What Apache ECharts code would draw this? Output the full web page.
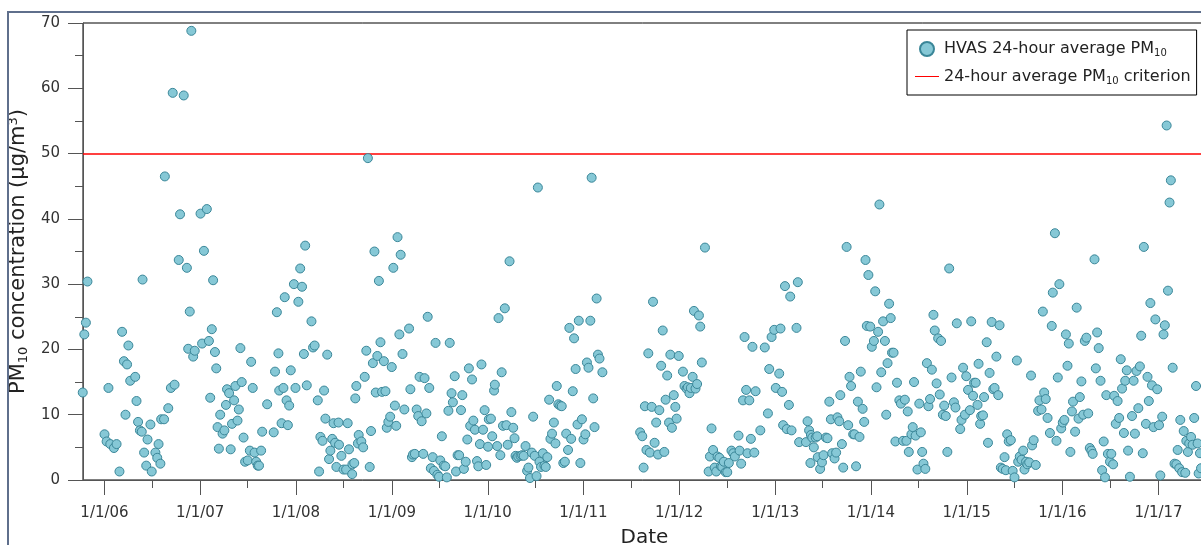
<!DOCTYPE html>
<html>
<head>
<meta charset="utf-8">
<title>HVAS 24-hour average PM10</title>
<script src="https://cdn.jsdelivr.net/npm/echarts@6/dist/echarts.min.js"></script>
<style>
  html, body { margin: 0; padding: 0; background: #fff; }
  #chart { width: 1201px; height: 545px; }
</style>
</head>
<body>
<div id="chart"></div>
<script>
// axis range and ticks
const xStart = '2005-10-11'
const xEnd = '2017-07-01'
const yearTicks = ['2006-01-01', '2007-01-01', '2008-01-01', '2009-01-01', '2010-01-01', '2011-01-01',
  '2012-01-01', '2013-01-01', '2014-01-01', '2015-01-01', '2016-01-01', '2017-01-01']
const yearLabels = ['1/1/06', '1/1/07', '1/1/08', '1/1/09', '1/1/10', '1/1/11',
  '1/1/12', '1/1/13', '1/1/14', '1/1/15', '1/1/16', '1/1/17']
const midYearTicks = ['2006-07-01', '2007-07-01', '2008-07-01', '2009-07-01', '2010-07-01', '2011-07-01',
  '2012-07-01', '2013-07-01', '2014-07-01', '2015-07-01', '2016-07-01', '2017-07-01']
const criterion = 50

// HVAS 24-hour average PM10 (µg/m3)
const pm2005 = [['2005-10-10', 13.4], ['2005-10-16', 22.3], ['2005-10-22', 24.1], ['2005-10-28', 30.4]]
const pm2006 = [['2006-01-01', 7.0], ['2006-01-09', 5.9], ['2006-01-16', 14.1], ['2006-01-23', 5.5],
  ['2006-02-06', 4.9], ['2006-02-16', 5.5], ['2006-02-27', 1.3], ['2006-03-09', 22.7], ['2006-03-16', 18.2],
  ['2006-03-22', 10.0], ['2006-03-28', 17.7], ['2006-04-02', 20.6], ['2006-04-09', 15.2], ['2006-04-28', 15.8],
  ['2006-05-03', 12.1], ['2006-05-09', 8.9], ['2006-05-16', 7.6], ['2006-05-23', 7.4], ['2006-05-26', 30.7],
  ['2006-06-01', 4.2], ['2006-06-09', 2.2], ['2006-06-14', 6.2], ['2006-06-25', 8.5], ['2006-06-30', 1.3],
  ['2006-07-14', 4.2], ['2006-07-21', 3.4], ['2006-07-26', 5.5], ['2006-08-02', 2.5], ['2006-08-05', 9.3],
  ['2006-08-16', 9.3], ['2006-08-19', 46.5], ['2006-09-01', 11.0], ['2006-09-11', 14.1], ['2006-09-18', 59.3],
  ['2006-09-25', 14.6], ['2006-10-11', 33.7], ['2006-10-16', 40.7], ['2006-10-30', 58.9], ['2006-11-11', 32.5],
  ['2006-11-16', 20.1], ['2006-11-22', 25.8], ['2006-11-28', 68.8], ['2006-12-05', 18.9], ['2006-12-11', 19.8]]
const pm2007 = [['2007-01-02', 40.8], ['2007-01-08', 20.9], ['2007-01-15', 35.1], ['2007-01-26', 41.5],
  ['2007-02-03', 21.3], ['2007-02-08', 12.6], ['2007-02-14', 23.1], ['2007-02-19', 30.6], ['2007-02-26', 19.6],
  ['2007-03-03', 17.1], ['2007-03-08', 8.1], ['2007-03-13', 4.8], ['2007-03-18', 10.0], ['2007-03-27', 7.1],
  ['2007-04-03', 7.6], ['2007-04-09', 11.5], ['2007-04-13', 13.9], ['2007-04-21', 13.3], ['2007-04-27', 4.7],
  ['2007-05-02', 8.6], ['2007-05-10', 12.2], ['2007-05-15', 14.4], ['2007-05-23', 9.1], ['2007-05-28', 10.8],
  ['2007-06-03', 20.2], ['2007-06-08', 15.0], ['2007-06-15', 6.5], ['2007-06-21', 2.8], ['2007-07-01', 3.0],
  ['2007-07-09', 4.5], ['2007-07-14', 18.1], ['2007-07-20', 14.1], ['2007-07-27', 4.2], ['2007-08-02', 2.8],
  ['2007-08-08', 2.2], ['2007-08-13', 2.2], ['2007-08-21', 4.5], ['2007-08-25', 7.4], ['2007-09-13', 11.6],
  ['2007-10-08', 7.3], ['2007-10-13', 16.6], ['2007-10-20', 25.7], ['2007-10-26', 19.4], ['2007-10-29', 13.7],
  ['2007-11-07', 8.7], ['2007-11-14', 14.1], ['2007-11-19', 28.0], ['2007-11-26', 12.2], ['2007-12-01', 8.4],
  ['2007-12-06', 11.4], ['2007-12-12', 16.8], ['2007-12-24', 30.0], ['2007-12-30', 14.1]]
const pm2008 = [['2008-01-10', 27.3], ['2008-01-17', 32.4], ['2008-01-24', 29.6], ['2008-01-31', 19.3],
  ['2008-02-05', 35.9], ['2008-02-11', 14.5], ['2008-02-29', 24.3], ['2008-03-06', 20.3], ['2008-03-12', 20.6],
  ['2008-03-24', 12.2], ['2008-03-29', 1.3], ['2008-04-03', 6.6], ['2008-04-11', 6.0], ['2008-04-17', 13.7],
  ['2008-04-22', 9.4], ['2008-04-29', 19.2], ['2008-05-06', 3.2], ['2008-05-11', 4.5], ['2008-05-18', 6.3],
  ['2008-05-23', 8.7], ['2008-05-29', 5.7], ['2008-06-03', 2.0], ['2008-06-11', 8.8], ['2008-06-13', 5.4],
  ['2008-06-22', 3.7], ['2008-06-30', 1.6], ['2008-07-10', 1.6], ['2008-07-16', 8.7], ['2008-07-21', 4.7],
  ['2008-08-02', 0.9], ['2008-08-03', 2.4], ['2008-08-10', 2.6], ['2008-08-14', 12.5], ['2008-08-18', 14.4],
  ['2008-08-24', 5.6], ['2008-08-27', 6.9], ['2008-09-06', 5.9], ['2008-09-13', 5.0], ['2008-09-19', 15.8],
  ['2008-09-25', 19.8], ['2008-10-01', 49.3], ['2008-10-08', 2.0], ['2008-10-13', 7.5], ['2008-10-20', 17.9],
  ['2008-10-26', 35.0], ['2008-10-31', 13.4], ['2008-11-06', 19.0], ['2008-11-12', 30.5], ['2008-11-18', 21.1],
  ['2008-11-24', 13.5], ['2008-12-01', 18.2], ['2008-12-07', 13.6], ['2008-12-12', 8.0], ['2008-12-18', 8.9],
  ['2008-12-25', 9.7], ['2008-12-31', 17.3]]
const pm2009 = [['2009-01-06', 32.5], ['2009-01-12', 11.4], ['2009-01-17', 8.3], ['2009-01-22', 37.2],
  ['2009-01-29', 22.3], ['2009-02-03', 34.5], ['2009-02-10', 19.3], ['2009-02-17', 10.8], ['2009-03-07', 23.2],
  ['2009-03-12', 13.9], ['2009-03-18', 3.5], ['2009-03-22', 3.9], ['2009-03-29', 4.0], ['2009-04-05', 10.8],
  ['2009-04-11', 9.8], ['2009-04-16', 15.8], ['2009-04-24', 9.0], ['2009-04-30', 4.0], ['2009-05-05', 15.6],
  ['2009-05-12', 10.2], ['2009-05-17', 25.0], ['2009-05-23', 14.1], ['2009-05-29', 1.8], ['2009-06-05', 3.5],
  ['2009-06-10', 1.4], ['2009-06-16', 21.0], ['2009-06-23', 0.8], ['2009-06-29', 0.5], ['2009-07-04', 3.0],
  ['2009-07-10', 6.7], ['2009-07-17', 2.2], ['2009-07-23', 2.1], ['2009-07-29', 0.4], ['2009-08-04', 10.6],
  ['2009-08-09', 21.0], ['2009-08-16', 13.3], ['2009-08-21', 11.9], ['2009-08-28', 15.9], ['2009-09-02', 1.3],
  ['2009-09-08', 3.8], ['2009-09-14', 3.8], ['2009-09-21', 10.7], ['2009-09-26', 13.0], ['2009-10-02', 1.7],
  ['2009-10-09', 2.8], ['2009-10-15', 6.2], ['2009-10-21', 17.1], ['2009-10-26', 8.3], ['2009-11-02', 15.4],
  ['2009-11-07', 9.1], ['2009-11-13', 7.7], ['2009-11-21', 2.9], ['2009-11-26', 2.1], ['2009-12-02', 5.5],
  ['2009-12-08', 17.7], ['2009-12-14', 7.7], ['2009-12-20', 10.7], ['2009-12-26', 2.3]]
const pm2010 = [['2010-01-02', 5.1], ['2010-01-05', 9.3], ['2010-01-13', 9.4], ['2010-01-18', 6.7],
  ['2010-01-25', 13.7], ['2010-01-28', 14.6], ['2010-02-06', 5.2], ['2010-02-11', 24.8], ['2010-02-18', 3.8],
  ['2010-02-23', 16.5], ['2010-02-28', 8.3], ['2010-03-07', 26.3], ['2010-03-13', 8.4], ['2010-03-18', 5.4],
  ['2010-03-25', 33.5], ['2010-04-01', 10.4], ['2010-04-08', 8.0], ['2010-04-13', 6.4], ['2010-04-17', 3.7],
  ['2010-04-22', 3.4], ['2010-04-27', 3.6], ['2010-05-06', 3.7], ['2010-05-12', 3.8], ['2010-05-18', 3.7],
  ['2010-05-25', 5.2], ['2010-05-31', 1.4], ['2010-06-05', 1.9], ['2010-06-11', 0.3], ['2010-06-18', 4.2],
  ['2010-06-23', 9.7], ['2010-06-29', 3.7], ['2010-07-06', 0.6], ['2010-07-11', 44.8], ['2010-07-17', 2.8],
  ['2010-07-23', 2.0], ['2010-07-30', 4.1], ['2010-08-05', 2.2], ['2010-08-10', 2.0], ['2010-08-16', 3.5],
  ['2010-08-23', 12.3], ['2010-08-28', 6.3], ['2010-09-03', 7.1], ['2010-09-10', 8.8], ['2010-09-16', 5.6],
  ['2010-09-21', 14.4], ['2010-09-27', 11.6], ['2010-10-04', 11.4], ['2010-10-10', 11.3], ['2010-10-16', 2.6],
  ['2010-10-22', 2.8], ['2010-10-27', 7.1], ['2010-11-03', 4.6], ['2010-11-08', 23.3], ['2010-11-15', 6.3],
  ['2010-11-21', 13.6], ['2010-11-26', 21.7], ['2010-12-02', 17.0], ['2010-12-09', 8.5], ['2010-12-14', 24.4],
  ['2010-12-20', 2.6], ['2010-12-26', 9.3]]
const pm2011 = [['2011-01-01', 6.2], ['2011-01-08', 7.0], ['2011-01-14', 18.0], ['2011-01-20', 17.2],
  ['2011-01-27', 24.4], ['2011-02-01', 46.3], ['2011-02-07', 12.5], ['2011-02-12', 8.1], ['2011-02-20', 27.8],
  ['2011-02-25', 19.2], ['2011-03-03', 18.6], ['2011-03-14', 16.5], ['2011-08-05', 7.3], ['2011-08-13', 6.7],
  ['2011-08-18', 1.9], ['2011-08-23', 11.3], ['2011-08-29', 4.6], ['2011-09-05', 19.4], ['2011-09-11', 4.2],
  ['2011-09-18', 11.2], ['2011-09-23', 27.3], ['2011-09-29', 5.7], ['2011-10-05', 8.8], ['2011-10-12', 3.9],
  ['2011-10-17', 10.7], ['2011-10-24', 17.5], ['2011-10-30', 22.9], ['2011-11-05', 4.3], ['2011-11-10', 12.3],
  ['2011-11-16', 16.0], ['2011-11-23', 8.8], ['2011-11-28', 19.2], ['2011-12-04', 8.0], ['2011-12-11', 13.0],
  ['2011-12-17', 11.2], ['2011-12-22', 9.4], ['2011-12-30', 19.0]]
const pm2012 = [['2012-01-15', 16.6], ['2012-01-21', 14.4], ['2012-01-29', 14.0], ['2012-02-03', 14.2],
  ['2012-02-09', 13.3], ['2012-02-14', 14.1], ['2012-02-21', 15.8], ['2012-02-26', 25.9], ['2012-03-03', 14.0],
  ['2012-03-09', 14.7], ['2012-03-16', 25.2], ['2012-03-21', 23.5], ['2012-03-27', 18.0], ['2012-04-08', 35.6],
  ['2012-04-22', 1.3], ['2012-04-27', 3.6], ['2012-05-03', 7.9], ['2012-05-09', 4.6], ['2012-05-15', 1.9],
  ['2012-05-21', 1.3], ['2012-05-26', 3.6], ['2012-06-02', 3.4], ['2012-06-08', 2.1], ['2012-06-13', 2.0],
  ['2012-06-19', 2.8], ['2012-06-26', 1.2], ['2012-07-02', 1.2], ['2012-07-08', 2.6], ['2012-07-18', 4.5],
  ['2012-07-25', 4.1], ['2012-07-31', 3.6], ['2012-08-14', 6.8], ['2012-08-18', 4.5], ['2012-08-24', 2.5],
  ['2012-08-31', 12.2], ['2012-09-06', 21.9], ['2012-09-12', 13.8], ['2012-09-17', 4.1], ['2012-09-24', 12.2],
  ['2012-09-30', 6.3], ['2012-10-06', 20.4], ['2012-10-13', 4.2], ['2012-10-18', 13.6], ['2012-11-05', 7.6],
  ['2012-11-22', 20.3], ['2012-12-04', 10.2], ['2012-12-09', 17.0], ['2012-12-18', 21.9], ['2012-12-28', 23.0]]
const pm2013 = [['2013-01-03', 14.1], ['2013-01-16', 16.3], ['2013-01-21', 23.2], ['2013-01-27', 13.5],
  ['2013-01-31', 8.4], ['2013-02-07', 29.7], ['2013-02-14', 7.8], ['2013-02-22', 11.5], ['2013-02-27', 28.1],
  ['2013-03-04', 7.6], ['2013-03-23', 23.3], ['2013-03-28', 30.3], ['2013-04-02', 5.8], ['2013-04-28', 5.8],
  ['2013-05-04', 9.0], ['2013-05-10', 7.6], ['2013-05-15', 2.6], ['2013-05-17', 6.9], ['2013-05-22', 6.5],
  ['2013-05-28', 5.0], ['2013-06-04', 6.5], ['2013-06-10', 6.7], ['2013-06-12', 3.5], ['2013-06-21', 1.7],
  ['2013-06-28', 2.7], ['2013-07-04', 3.8], ['2013-07-13', 6.5], ['2013-07-19', 6.4], ['2013-07-26', 12.0],
  ['2013-08-01', 9.3], ['2013-08-06', 4.1], ['2013-08-15', 3.3], ['2013-08-21', 4.2], ['2013-08-26', 9.6],
  ['2013-09-02', 9.0], ['2013-09-06', 13.0], ['2013-09-12', 5.5], ['2013-09-17', 1.9], ['2013-09-24', 21.3],
  ['2013-09-30', 35.7], ['2013-10-06', 8.4], ['2013-10-11', 15.8], ['2013-10-17', 14.4], ['2013-10-25', 7.0],
  ['2013-10-30', 7.0], ['2013-11-05', 2.1], ['2013-11-12', 12.0], ['2013-11-18', 6.6], ['2013-11-23', 16.6],
  ['2013-11-30', 10.9], ['2013-12-06', 8.9], ['2013-12-11', 33.7], ['2013-12-16', 23.6], ['2013-12-22', 31.4],
  ['2013-12-29', 23.5]]
const pm2014 = [['2014-01-04', 20.4], ['2014-01-12', 21.3], ['2014-01-17', 28.9], ['2014-01-22', 14.2],
  ['2014-01-28', 22.7], ['2014-02-02', 42.2], ['2014-02-09', 16.5], ['2014-02-16', 24.3], ['2014-02-23', 21.3],
  ['2014-02-28', 10.0], ['2014-03-05', 17.9], ['2014-03-11', 27.0], ['2014-03-17', 24.8], ['2014-03-22', 19.5],
  ['2014-03-28', 19.5], ['2014-04-04', 5.9], ['2014-04-10', 14.9], ['2014-04-19', 12.2], ['2014-04-25', 11.7],
  ['2014-05-03', 6.0], ['2014-05-10', 12.3], ['2014-05-16', 6.0], ['2014-05-21', 10.5], ['2014-05-25', 4.3],
  ['2014-06-04', 7.0], ['2014-06-09', 8.1], ['2014-06-14', 15.0], ['2014-06-20', 6.8], ['2014-06-27', 1.6],
  ['2014-07-04', 11.7], ['2014-07-10', 7.3], ['2014-07-15', 4.3], ['2014-07-20', 2.5], ['2014-07-27', 1.7],
  ['2014-08-02', 17.9], ['2014-08-08', 11.3], ['2014-08-14', 12.4], ['2014-08-21', 16.9], ['2014-08-27', 25.3],
  ['2014-09-01', 22.9], ['2014-09-08', 14.8], ['2014-09-14', 21.7], ['2014-09-20', 13.1], ['2014-09-25', 21.3],
  ['2014-10-02', 10.0], ['2014-10-07', 11.4], ['2014-10-13', 9.8], ['2014-10-19', 4.3], ['2014-10-26', 32.4],
  ['2014-11-04', 15.7], ['2014-11-13', 11.9], ['2014-11-19', 11.1], ['2014-11-24', 24.0], ['2014-12-07', 7.8],
  ['2014-12-12', 9.2], ['2014-12-18', 17.2], ['2014-12-25', 10.0], ['2014-12-30', 15.9]]
const pm2015 = [['2015-01-06', 13.8], ['2015-01-13', 10.7], ['2015-01-18', 24.3], ['2015-01-25', 12.9],
  ['2015-01-29', 14.9], ['2015-02-04', 14.9], ['2015-02-11', 11.5], ['2015-02-15', 17.8], ['2015-02-21', 8.6],
  ['2015-02-25', 9.8], ['2015-03-04', 9.9], ['2015-03-08', 12.7], ['2015-03-18', 21.1], ['2015-03-23', 5.7],
  ['2015-03-29', 16.4], ['2015-04-06', 24.2], ['2015-04-12', 13.9], ['2015-04-17', 14.1], ['2015-04-24', 18.9],
  ['2015-05-01', 13.0], ['2015-05-06', 23.7], ['2015-05-11', 1.9], ['2015-05-18', 1.7], ['2015-05-25', 3.5],
  ['2015-05-30', 1.5], ['2015-06-04', 7.0], ['2015-06-10', 5.9], ['2015-06-18', 6.1], ['2015-06-25', 1.4],
  ['2015-07-02', 0.4], ['2015-07-11', 18.3], ['2015-07-16', 2.8], ['2015-07-22', 3.6], ['2015-07-29', 3.1],
  ['2015-08-04', 4.5], ['2015-08-09', 1.6], ['2015-08-15', 2.8], ['2015-08-20', 2.4], ['2015-08-27', 2.7],
  ['2015-09-03', 16.0], ['2015-09-07', 5.3], ['2015-09-13', 6.1], ['2015-09-21', 2.3], ['2015-09-30', 10.6],
  ['2015-10-05', 12.2], ['2015-10-13', 10.8], ['2015-10-18', 25.8], ['2015-10-23', 13.4], ['2015-10-29', 12.4],
  ['2015-11-05', 9.5], ['2015-11-14', 7.2], ['2015-11-21', 23.6], ['2015-11-25', 28.7], ['2015-12-03', 37.8],
  ['2015-12-09', 6.0], ['2015-12-14', 15.7], ['2015-12-20', 30.0], ['2015-12-27', 7.9]]
const pm2016 = [['2016-01-02', 8.8], ['2016-01-08', 9.2], ['2016-01-14', 22.3], ['2016-01-20', 17.5],
  ['2016-01-25', 20.9], ['2016-01-31', 4.3], ['2016-02-06', 10.5], ['2016-02-10', 12.0], ['2016-02-18', 7.4],
  ['2016-02-24', 26.4], ['2016-03-02', 9.4], ['2016-03-07', 12.7], ['2016-03-13', 15.1], ['2016-03-20', 10.0],
  ['2016-03-26', 21.3], ['2016-04-01', 21.8], ['2016-04-08', 10.2], ['2016-04-14', 4.9], ['2016-04-20', 4.5],
  ['2016-04-25', 4.0], ['2016-05-02', 33.8], ['2016-05-07', 17.1], ['2016-05-12', 22.6], ['2016-05-18', 20.2],
  ['2016-05-25', 15.2], ['2016-05-31', 1.5], ['2016-06-06', 5.9], ['2016-06-11', 0.4], ['2016-06-16', 13.0],
  ['2016-06-22', 4.0], ['2016-06-30', 2.8], ['2016-07-05', 4.0], ['2016-07-12', 2.4], ['2016-07-16', 12.9],
  ['2016-07-22', 8.6], ['2016-07-29', 12.1], ['2016-08-04', 9.5], ['2016-08-10', 18.5], ['2016-08-15', 14.0],
  ['2016-08-22', 7.2], ['2016-08-27', 15.2], ['2016-09-02', 16.8], ['2016-09-07', 4.5], ['2016-09-14', 0.5],
  ['2016-09-22', 9.8], ['2016-09-28', 15.2], ['2016-10-03', 7.1], ['2016-10-09', 16.7], ['2016-10-16', 11.0],
  ['2016-10-22', 17.4], ['2016-10-27', 22.1], ['2016-11-02', 4.1], ['2016-11-06', 35.7], ['2016-11-14', 8.6],
  ['2016-11-20', 15.8], ['2016-11-25', 12.1], ['2016-12-01', 27.1], ['2016-12-07', 14.5], ['2016-12-13', 8.1],
  ['2016-12-20', 24.6], ['2016-12-27', 13.9]]
const pm2017 = [['2017-01-03', 8.4], ['2017-01-08', 0.7], ['2017-01-15', 9.7], ['2017-01-20', 22.3],
  ['2017-01-25', 23.7], ['2017-02-01', 54.3], ['2017-02-06', 29.0], ['2017-02-12', 42.5], ['2017-02-17', 45.9],
  ['2017-02-24', 17.2], ['2017-03-03', 2.5], ['2017-03-10', 2.4], ['2017-03-15', 4.6], ['2017-03-21', 1.8],
  ['2017-03-25', 9.2], ['2017-04-01', 1.2], ['2017-04-07', 7.5], ['2017-04-13', 1.1], ['2017-04-17', 6.0],
  ['2017-04-23', 4.3], ['2017-04-28', 5.6], ['2017-05-05', 6.6], ['2017-05-11', 5.4], ['2017-05-17', 9.5],
  ['2017-05-24', 14.4], ['2017-05-30', 5.6], ['2017-06-03', 1.0], ['2017-06-08', 4.1], ['2017-06-12', 1.8]]

const font = 'DejaVu Sans'
const toTime = (s) => {
  const [y, m, d] = s.split('-').map(Number)
  return new Date(y, m - 1, d).getTime()
}

const pmData = [].concat(pm2005, pm2006, pm2007, pm2008, pm2009, pm2010, pm2011,
  pm2012, pm2013, pm2014, pm2015, pm2016, pm2017).map(([d, v]) => [toTime(d), v])
const xMin = toTime(xStart)
const xMax = toTime(xEnd)
const yearTickTimes = yearTicks.map(toTime)

function yearLabel(value) {
  let best = 0
  yearTickTimes.forEach((t, i) => {
    if (Math.abs(t - value) < Math.abs(yearTickTimes[best] - value)) best = i
  })
  return yearLabels[best]
}

const chart = echarts.init(document.getElementById('chart'))
chart.setOption({
  animation: false,
  textStyle: { fontFamily: font },
  grid: {
    left: 83, top: 23, width: 1123, height: 457,
    outerBoundsMode: 'none',
    show: true, borderColor: '#000', borderWidth: 1, backgroundColor: 'transparent',
  },
  graphic: [
    {
      type: 'rect',
      shape: { x: 8, y: 12, width: 1400, height: 700 },
      style: { fill: 'none', stroke: '#5f6f8c', lineWidth: 2 },
      silent: true,
      z: 100,
    },
  ],
  legend: {
    orient: 'vertical',
    left: 907, top: 30,
    padding: [11, 6, 9, 8],
    itemGap: 10,
    itemWidth: 24, itemHeight: 14,
    backgroundColor: '#fff',
    borderColor: '#000', borderWidth: 1,
    textStyle: {
      fontFamily: font, fontSize: 16, color: '#222',
      rich: { sub: { fontFamily: font, fontSize: 10, color: '#222', padding: [9, 0, 0, 0] } },
    },
    formatter: (name) => name.replace('PM10', 'PM{sub|10}'),
    data: [
      { name: 'HVAS 24-hour average PM10', icon: 'circle' },
      {
        name: '24-hour average PM10 criterion',
        icon: 'path://M0,0 M0,6.5 L24,6.5 L24,7.5 L0,7.5 Z M24,14',
        itemStyle: { borderWidth: 0 },
      },
    ],
  },
  xAxis: [
    {
      type: 'value',
      min: xMin, max: xMax,
      name: 'Date', nameLocation: 'middle', nameGap: 48,
      nameTextStyle: { fontFamily: font, fontSize: 20, color: '#222' },
      axisLine: { lineStyle: { color: '#555', width: 1 } },
      axisTick: { customValues: yearTickTimes, length: 15, lineStyle: { color: '#555' } },
      axisLabel: {
        customValues: yearTickTimes, formatter: yearLabel,
        margin: 26, fontFamily: font, fontSize: 15, color: '#333',
      },
      splitLine: { show: false },
    },
    {
      type: 'value',
      min: xMin, max: xMax,
      position: 'bottom',
      axisLine: { show: false },
      axisTick: { customValues: midYearTicks.map(toTime), length: 8, lineStyle: { color: '#555' } },
      axisLabel: { show: false },
      splitLine: { show: false },
    },
  ],
  yAxis: {
    type: 'value',
    min: 0, max: 70, interval: 10,
    name: 'PM{sub|10} concentration (µg/m{sup|3})',
    nameLocation: 'middle', nameGap: 47,
    nameTextStyle: {
      fontFamily: font, fontSize: 21, color: '#222',
      rich: {
        sub: { fontFamily: font, fontSize: 13, color: '#222', padding: [10, 0, 0, 0] },
        sup: { fontFamily: font, fontSize: 13, color: '#222', padding: [0, 0, 9, 0] },
      },
    },
    axisLine: { show: true, lineStyle: { color: '#555', width: 1 } },
    axisTick: { show: true, length: 15, lineStyle: { color: '#555' } },
    minorTick: { show: true, splitNumber: 2, length: 8, lineStyle: { color: '#555' } },
    axisLabel: { margin: 23, fontFamily: font, fontSize: 15, color: '#333' },
    splitLine: { show: false },
  },
  series: [
    {
      // legend entry for the criterion; the line itself is the markLine below
      name: '24-hour average PM10 criterion',
      type: 'line',
      data: [],
      symbol: 'none',
      lineStyle: { color: '#ff0000', width: 1 },
      itemStyle: { color: '#ff0000' },
      silent: true,
    },
    {
      name: 'HVAS 24-hour average PM10',
      type: 'scatter',
      data: pmData,
      symbol: 'circle',
      symbolSize: 9,
      clip: false,
      itemStyle: { color: '#86c8d6', borderColor: '#3a8698', borderWidth: 1, opacity: 1 },
      markLine: {
        silent: true,
        symbol: 'none',
        label: { show: false },
        emphasis: { disabled: true },
        lineStyle: { color: '#ff0000', width: 1.5, type: 'solid', opacity: 1 },
        data: [{ yAxis: criterion }],
        z: 1,
      },
      z: 3,
    },
  ],
})
</script>
</body>
</html>
